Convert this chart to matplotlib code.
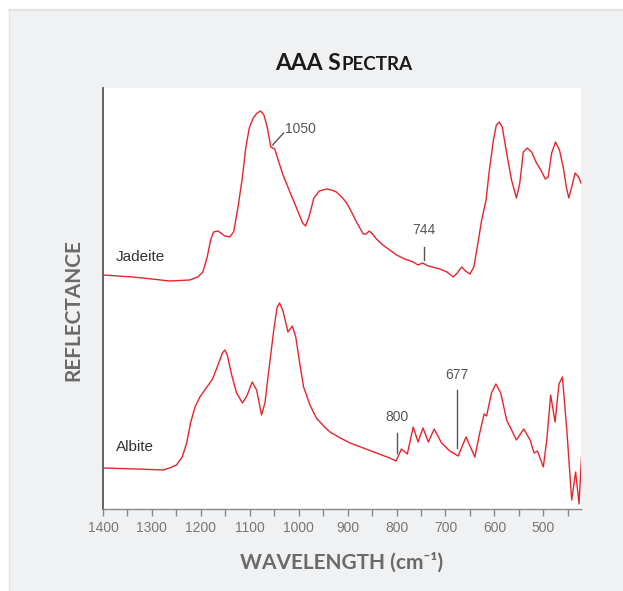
import matplotlib
matplotlib.use("Agg")
import matplotlib.pyplot as plt
from matplotlib.patches import Rectangle
from matplotlib.lines import Line2D
from matplotlib.offsetbox import TextArea, HPacker, AnchoredOffsetbox

# wavenumber (cm-1) and reflectance (arbitrary units)
jadeite_wn = [1400, 1339, 1300, 1264, 1223, 1206, 1196, 1187, 1180, 1174,
              1165, 1151, 1141, 1133, 1124, 1115, 1108, 1101, 1093, 1085,
              1078, 1071, 1064, 1057, 1049, 1042, 1032, 1018, 1001, 992,
              986, 979, 969, 958, 943, 933, 923, 912, 902, 892,
              882, 868, 862, 856, 849, 841, 828, 814, 800, 783,
              766, 756, 747, 735, 711, 697, 684, 676, 667, 659,
              650, 642, 635, 626, 617, 611, 602, 596, 590, 584,
              575, 565, 555, 548, 541, 533, 524, 514, 505, 496,
              490, 483, 475, 467, 459, 453, 448, 442, 435, 428,
              423]
jadeite_r = [233, 231, 229, 227, 228, 231, 236, 251, 268, 276,
             277, 272, 271, 276, 301, 331, 361, 380, 390, 395,
             397, 393, 380, 361, 359, 348, 333, 316, 296, 285,
             282, 291, 310, 317, 319, 318, 316, 311, 305, 296,
             286, 274, 274, 277, 274, 269, 263, 258, 253, 249,
             246, 243, 245, 242, 239, 236, 231, 235, 241, 237,
             234, 241, 261, 288, 308, 335, 368, 383, 386, 381,
             355, 328, 310, 325, 356, 360, 356, 345, 338, 329,
             331, 355, 366, 358, 340, 321, 310, 321, 335, 331,
             325]

albite_wn = [1400, 1330, 1277, 1264, 1250, 1238, 1229, 1221, 1212, 1202,
             1189, 1176, 1165, 1156, 1151, 1146, 1137, 1127, 1115, 1106,
             1095, 1086, 1076, 1069, 1061, 1051, 1044, 1039, 1032, 1022,
             1013, 1006, 998, 990, 977, 964, 947, 936, 915, 895,
             868, 841, 814, 801, 790, 778, 766, 756, 746, 735,
             723, 708, 691, 674, 658, 640, 630, 621, 616, 606,
             597, 587, 575, 555, 540, 527, 519, 512, 500, 493,
             485, 476, 468, 461, 452, 442, 434, 427, 422]
albite_r = [40, 39, 38, 40, 43, 51, 65, 85, 101, 111,
            120, 129, 143, 155, 158, 153, 133, 115, 105, 112,
            126, 118, 93, 105, 138, 178, 201, 205, 197, 176,
            182, 171, 145, 121, 103, 90, 81, 76, 70, 65,
            60, 55, 50, 47, 59, 54, 81, 66, 80, 66,
            79, 65, 57, 52, 71, 51, 75, 94, 92, 115,
            124, 115, 88, 68, 79, 68, 55, 57, 41, 68,
            113, 86, 124, 131, 78, 8, 36, 4, 51]

x_ticks = [1400, 1300, 1200, 1100, 1000, 900, 800, 700, 600, 500]

# marked bands: (label, wavenumber, line bottom, line top, text y)
jadeite_marks = [("744", 744, 248, 261, 271)]
albite_marks = [("800", 800, 55, 75, 84), ("677", 677, 60, 118, 126)]

red = "#e8242b"
gray_txt = "#6a6a6a"

fig = plt.figure(figsize=(6.23, 5.91), dpi=100, facecolor="white")

# grey panel behind everything
fig.patches.append(Rectangle((9 / 623, 0), 1, 1 - 10 / 591, transform=fig.transFigure,
                             facecolor="#f0f1f3", edgecolor="none", zorder=-10))
fig.lines.append(Line2D([9 / 623, 1], [1 - 10 / 591] * 2, transform=fig.transFigure,
                        color="#e2e3e5", lw=1.5, zorder=-9))
fig.lines.append(Line2D([9 / 623] * 2, [0, 1 - 10 / 591], transform=fig.transFigure,
                        color="#e2e3e5", lw=1.0, zorder=-9))

ax = fig.add_axes([103 / 623, 1 - 509 / 591, 478 / 623, 421 / 591])
ax.set_zorder(1)
ax.set_facecolor("white")

ax.plot(jadeite_wn, jadeite_r, color=red, lw=1.0, solid_joinstyle="round")
ax.plot(albite_wn, albite_r, color=red, lw=1.0, solid_joinstyle="round")

ax.set_xlim(1400, 423)
ax.set_ylim(-1, 420)

ax.set_xticks(x_ticks)
ax.set_xticks(range(1350, 420, -100), minor=True)
ax.set_yticks([])
ax.tick_params(axis="x", which="both", direction="out", length=5, width=1,
               color="#888888", labelsize=10, labelcolor="#777777", pad=4)
for lbl in ax.get_xticklabels():
    lbl.set_family("Liberation Sans")

for side in ["top", "right"]:
    ax.spines[side].set_visible(False)
ax.spines["left"].set_color("#555555")
ax.spines["left"].set_linewidth(1.3)
ax.spines["bottom"].set_color("#888888")
ax.spines["bottom"].set_linewidth(1.0)

# sample names
ax.text(1374, 251, "Jadeite", fontsize=11, color="#333333", va="center",
        family="Liberation Sans")
ax.text(1374, 61, "Albite", fontsize=11, color="#333333", va="center",
        family="Liberation Sans")

# 1050 shoulder with slanted leader
ax.plot([1053, 1031], [363, 375], color="#555555", lw=1.0)
ax.text(1029, 379, "1050", fontsize=10, color="#555555", va="center",
        family="Liberation Sans")

for label, wn, y0, y1, ty in jadeite_marks + albite_marks:
    ax.plot([wn, wn], [y0, y1], color="#555555", lw=1.0)
    ax.text(wn, ty, label, fontsize=10, color="#555555", ha="center", va="bottom",
            family="Liberation Sans")

# title in small caps
big = TextArea("AAA S", textprops=dict(fontsize=16.5, fontweight="bold",
                                         color="#1a1a1a", family="Lato"))
small = TextArea("PECTRA", textprops=dict(fontsize=13.5, fontweight="bold",
                                           color="#1a1a1a", family="Lato"))
title_box = HPacker(children=[big, small], align="baseline", pad=0, sep=0)
anch = AnchoredOffsetbox(loc="center", child=title_box, frameon=False,
                         bbox_to_anchor=(344 / 623, 1 - 63 / 591),
                         bbox_transform=fig.transFigure, pad=0, borderpad=0)
fig.add_artist(anch)

fig.text(342 / 623, 1 - 562 / 591, "WAVELENGTH (cm\u207b\u00b9)", ha="center", va="center",
         fontsize=15, fontweight="bold", color=gray_txt, family=["Lato", "DejaVu Sans"])
fig.text(73.5 / 623, 1 - 310 / 591, "REFLECTANCE", ha="center", va="center",
         rotation=90, fontsize=15, fontweight="bold", color=gray_txt, family="Lato")

fig.savefig("out.png", dpi=100, facecolor="white")
